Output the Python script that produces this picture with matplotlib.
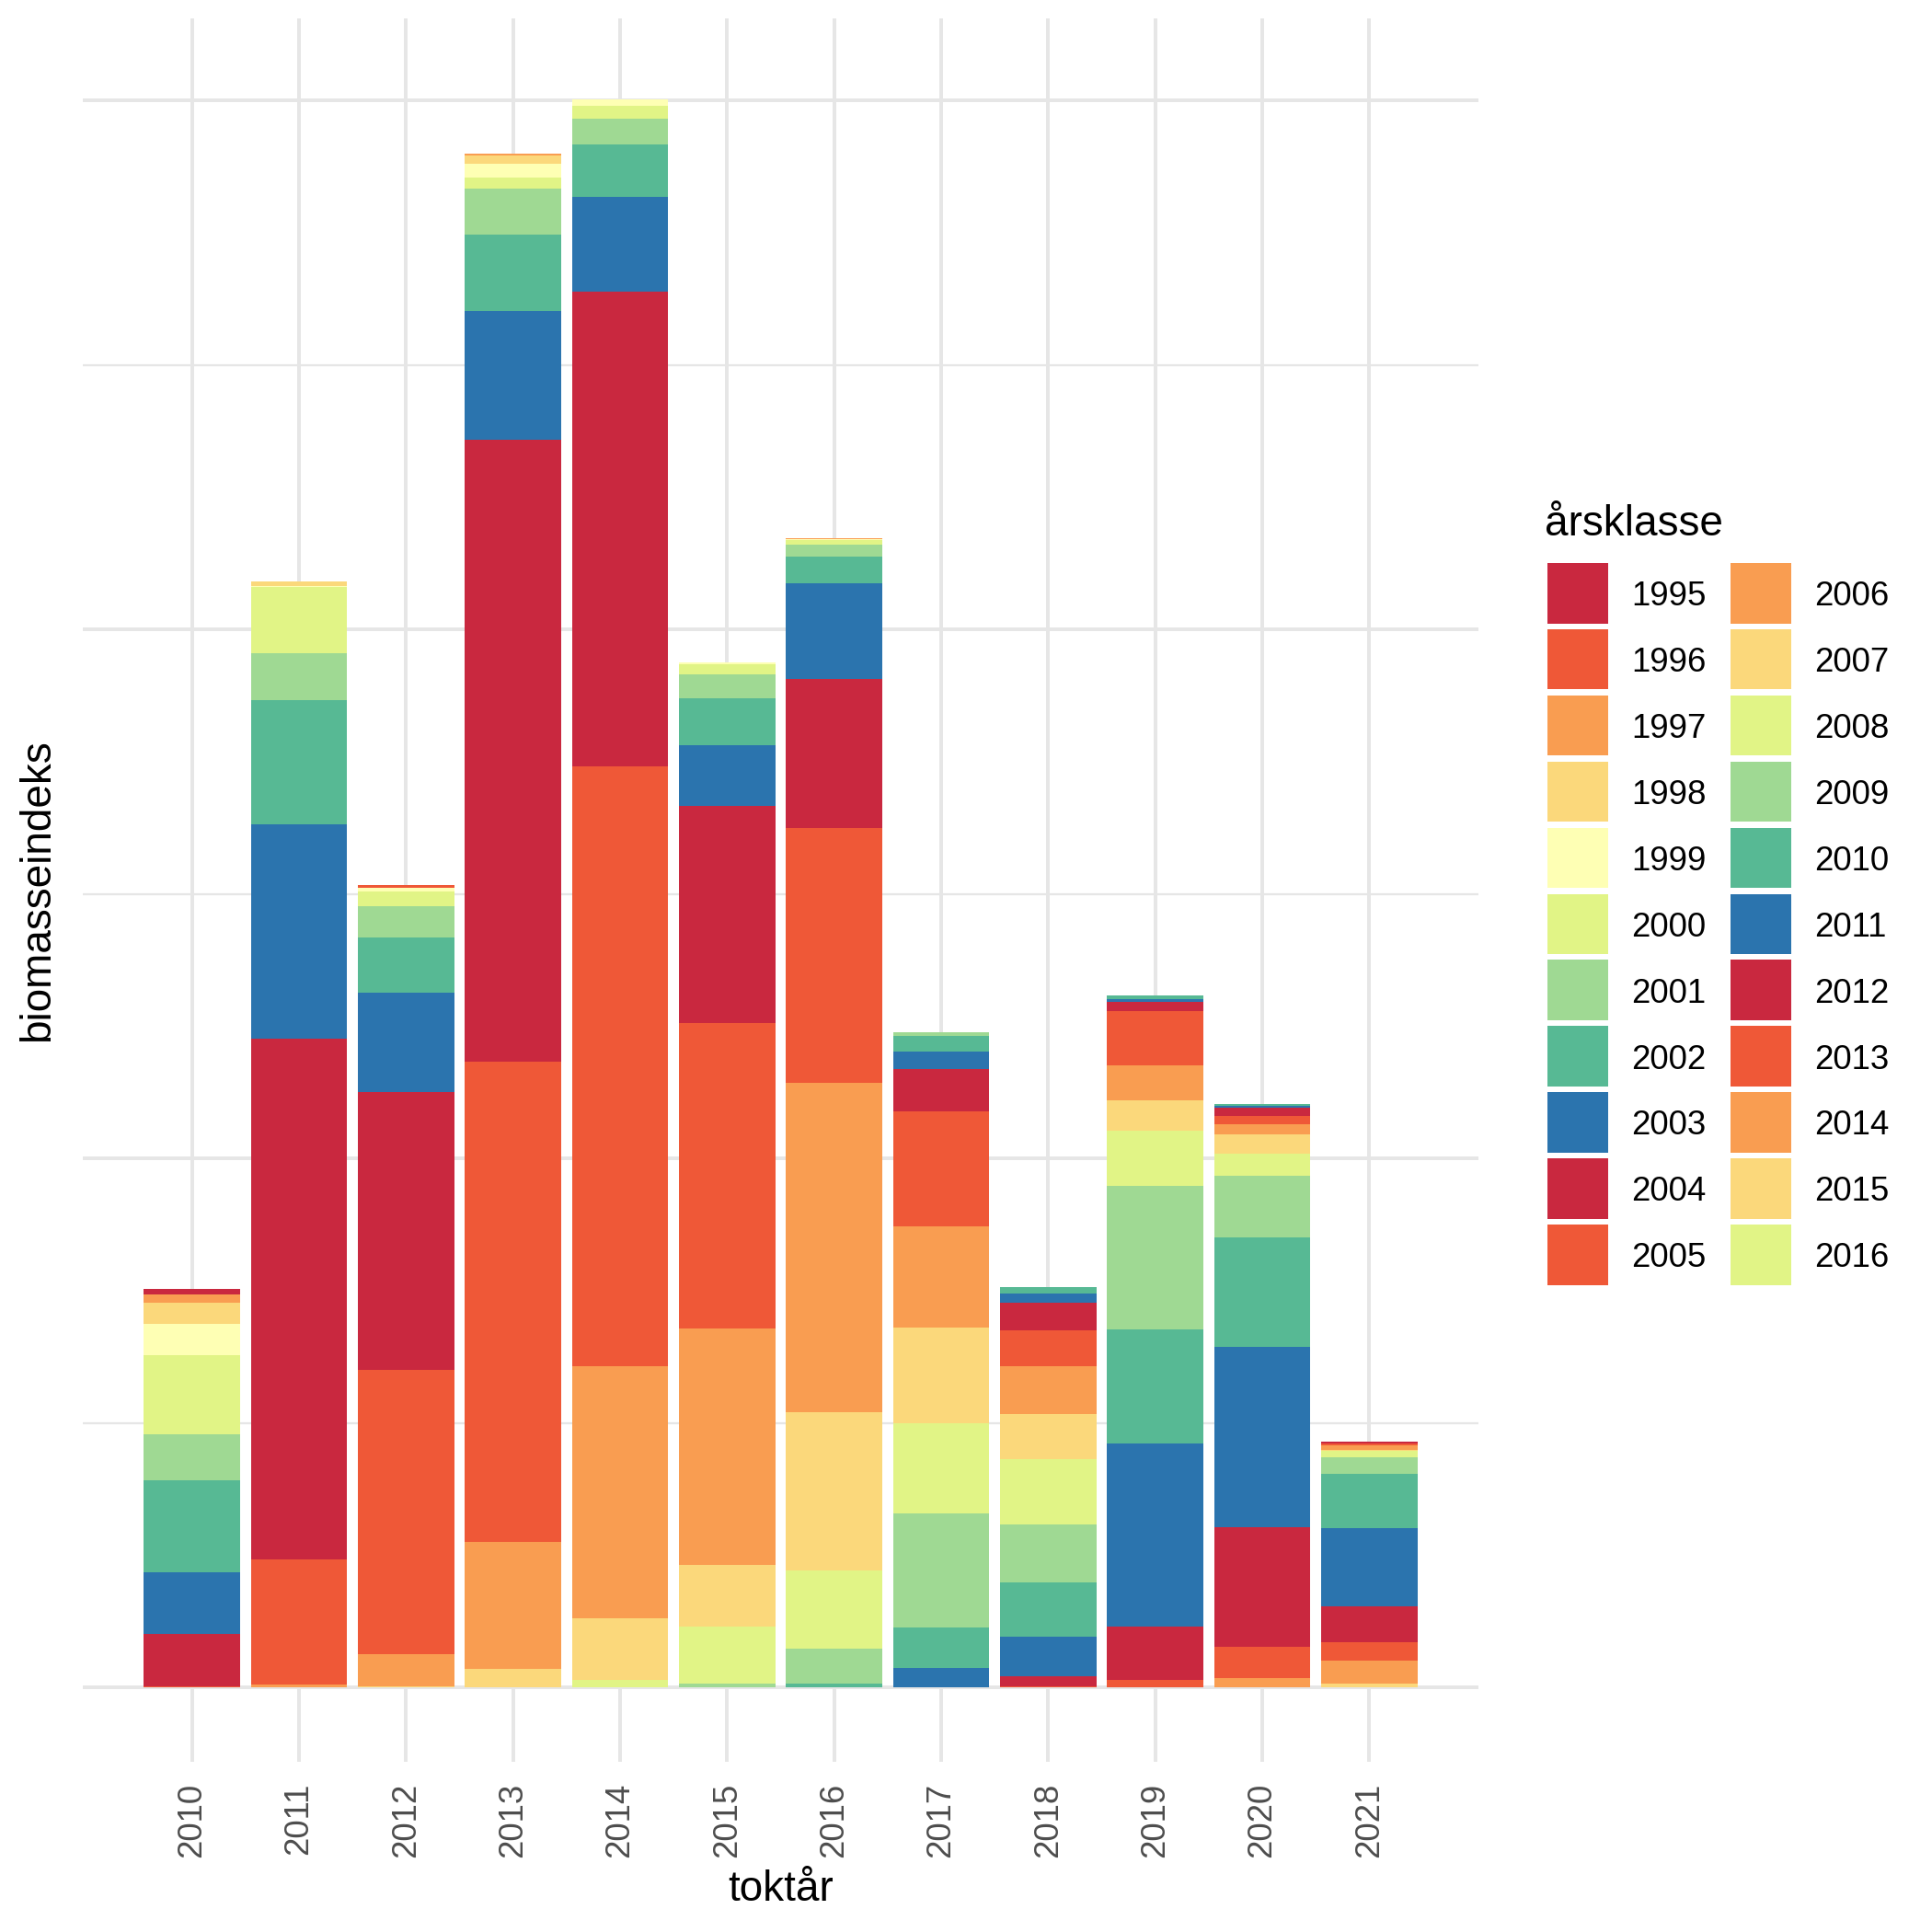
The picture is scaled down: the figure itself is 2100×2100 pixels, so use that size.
import matplotlib
matplotlib.use("Agg")
import matplotlib.pyplot as plt
from matplotlib.patches import Rectangle
import numpy as np

plt.rcParams['font.family'] = ['Liberation Sans', 'DejaVu Sans']

# ---- data -------------------------------------------------------------
survey_years = [2010, 2011, 2012, 2013, 2014, 2015, 2016, 2017, 2018, 2019, 2020, 2021]
year_classes = list(range(1995, 2017))

# biomass index per survey year, one value per year class 1995..2016
#              1995   1996   1997   1998   1999   2000   2001   2002   2003   2004   2005   2006   2007   2008   2009   2010   2011   2012   2013   2014   2015   2016
bio_2010 = [0.021, 0.000, 0.031, 0.081, 0.118, 0.299, 0.174, 0.345, 0.235, 0.198, 0.005, 0.000, 0.000, 0.000, 0.000, 0.000, 0.000, 0.000, 0.000, 0.000, 0.000, 0.000]
bio_2011 = [0.000, 0.000, 0.000, 0.017, 0.003, 0.251, 0.177, 0.470, 0.811, 1.968, 0.473, 0.012, 0.000, 0.000, 0.000, 0.000, 0.000, 0.000, 0.000, 0.000, 0.000, 0.000]
bio_2012 = [0.000, 0.010, 0.000, 0.000, 0.014, 0.056, 0.118, 0.210, 0.373, 1.053, 1.074, 0.121, 0.005, 0.000, 0.000, 0.000, 0.000, 0.000, 0.000, 0.000, 0.000, 0.000]
bio_2013 = [0.000, 0.000, 0.006, 0.031, 0.052, 0.042, 0.174, 0.289, 0.487, 2.353, 1.813, 0.480, 0.072, 0.000, 0.000, 0.000, 0.000, 0.000, 0.000, 0.000, 0.000, 0.000]
bio_2014 = [0.000, 0.000, 0.000, 0.000, 0.023, 0.051, 0.098, 0.195, 0.359, 1.794, 2.270, 0.951, 0.233, 0.030, 0.000, 0.000, 0.000, 0.000, 0.000, 0.000, 0.000, 0.000]
bio_2015 = [0.000, 0.000, 0.000, 0.000, 0.007, 0.038, 0.091, 0.177, 0.229, 0.820, 1.156, 0.895, 0.232, 0.214, 0.014, 0.003, 0.000, 0.000, 0.000, 0.000, 0.000, 0.000]
bio_2016 = [0.000, 0.000, 0.004, 0.000, 0.003, 0.017, 0.046, 0.101, 0.361, 0.564, 0.965, 1.244, 0.598, 0.296, 0.132, 0.014, 0.001, 0.000, 0.000, 0.000, 0.000, 0.000]
bio_2017 = [0.000, 0.000, 0.000, 0.000, 0.000, 0.000, 0.014, 0.060, 0.066, 0.159, 0.433, 0.382, 0.363, 0.340, 0.434, 0.152, 0.074, 0.000, 0.000, 0.000, 0.000, 0.000]
bio_2018 = [0.000, 0.000, 0.000, 0.000, 0.000, 0.000, 0.000, 0.023, 0.037, 0.103, 0.135, 0.181, 0.170, 0.247, 0.219, 0.206, 0.148, 0.040, 0.005, 0.000, 0.000, 0.000]
bio_2019 = [0.000, 0.000, 0.000, 0.000, 0.000, 0.000, 0.000, 0.014, 0.011, 0.035, 0.205, 0.132, 0.115, 0.206, 0.545, 0.431, 0.692, 0.202, 0.026, 0.002, 0.000, 0.000]
bio_2020 = [0.000, 0.000, 0.000, 0.000, 0.000, 0.000, 0.000, 0.007, 0.007, 0.031, 0.032, 0.038, 0.073, 0.083, 0.234, 0.414, 0.680, 0.454, 0.115, 0.035, 0.003, 0.000]
bio_2021 = [0.000, 0.000, 0.000, 0.000, 0.000, 0.000, 0.000, 0.000, 0.000, 0.007, 0.007, 0.017, 0.004, 0.024, 0.063, 0.205, 0.295, 0.136, 0.070, 0.087, 0.014, 0.000]

class_colors = ["#C9283F", "#EF5837", "#F99D51", "#FBD87B", "#FEFFB4", "#E1F486", "#9FD993",
                "#57B994", "#2B74AE", "#C9283F", "#EF5837", "#F99D51", "#FBD87B", "#E1F486",
                "#9FD993", "#57B994", "#2B74AE", "#C9283F", "#EF5837", "#F99D51", "#FBD87B",
                "#E1F486"]

# ---- figure -------------------------------------------------------------
W = H = 2100
fig = plt.figure(figsize=(7, 7), dpi=300)
fig.patch.set_facecolor("white")
ax = fig.add_axes([90 / W, 1 - 1915 / H, (1607 - 90) / W, (1915 - 20) / H])

table = np.array([bio_2010, bio_2011, bio_2012, bio_2013, bio_2014, bio_2015,
                  bio_2016, bio_2017, bio_2018, bio_2019, bio_2020, bio_2021])
x = np.arange(len(survey_years))
bottom = np.zeros(len(survey_years))
# newest year class at the bottom, oldest on top (ggplot stacking order)
for j in range(len(year_classes) - 1, -1, -1):
    vals = table[:, j]
    ax.bar(x, vals, width=0.9, bottom=bottom, color=class_colors[j],
           linewidth=0, zorder=3)
    bottom = bottom + vals

ax.set_xlim(-1.02, 12.02)
ax.set_ylim(-0.28, 6.31)

ax.set_yticks([0, 2, 4, 6])
ax.set_yticks([1, 3, 5], minor=True)
ax.set_yticklabels([])
ax.set_xticks(x)
ax.set_xticklabels([str(s) for s in survey_years], rotation=90, fontsize=8.8,
                   color="#4D4D4D", va="top", ha="center")
ax.tick_params(axis="both", which="both", length=0)
ax.tick_params(axis="x", pad=5.5)

grid_c = "#E6E6E6"
ax.grid(True, axis="y", which="major", color=grid_c, linewidth=0.95, zorder=0)
ax.grid(True, axis="y", which="minor", color=grid_c, linewidth=0.55, zorder=0)
ax.grid(True, axis="x", which="major", color=grid_c, linewidth=0.95, zorder=0)
ax.set_axisbelow(True)
for s in ax.spines.values():
    s.set_visible(False)

fig.text(((67 + 1200) / 2) * 1.3393 / W, (H - 2066) / H, "toktår", fontsize=11,
         ha="center", va="baseline", color="black")
fig.text(41 / W, 1 - 968 / H, "biomasseindeks", fontsize=11, rotation=90,
         ha="center", va="center", color="black")

# ---- legend -------------------------------------------------------------
fig.text(1679 / W, 1 - 582 / H, "årsklasse", fontsize=11, ha="left",
         va="baseline", color="black")
key_w, key_h, pitch = 66, 65.5, 71.9
col_key_x = [1682, 1881]
col_txt_x = [1773, 1972]
for i, yc in enumerate(year_classes):
    col, row = divmod(i, 11)
    top = 612 + row * pitch
    fig.patches.append(Rectangle((col_key_x[col] / W, 1 - (top + key_h) / H),
                                 key_w / W, key_h / H, transform=fig.transFigure,
                                 facecolor=class_colors[i], edgecolor="none"))
    fig.text(col_txt_x[col] / W, 1 - (top + key_h / 2) / H, str(yc), fontsize=8.8,
             ha="left", va="center_baseline", color="black")

fig.savefig("out.png", dpi=300, facecolor="white")
